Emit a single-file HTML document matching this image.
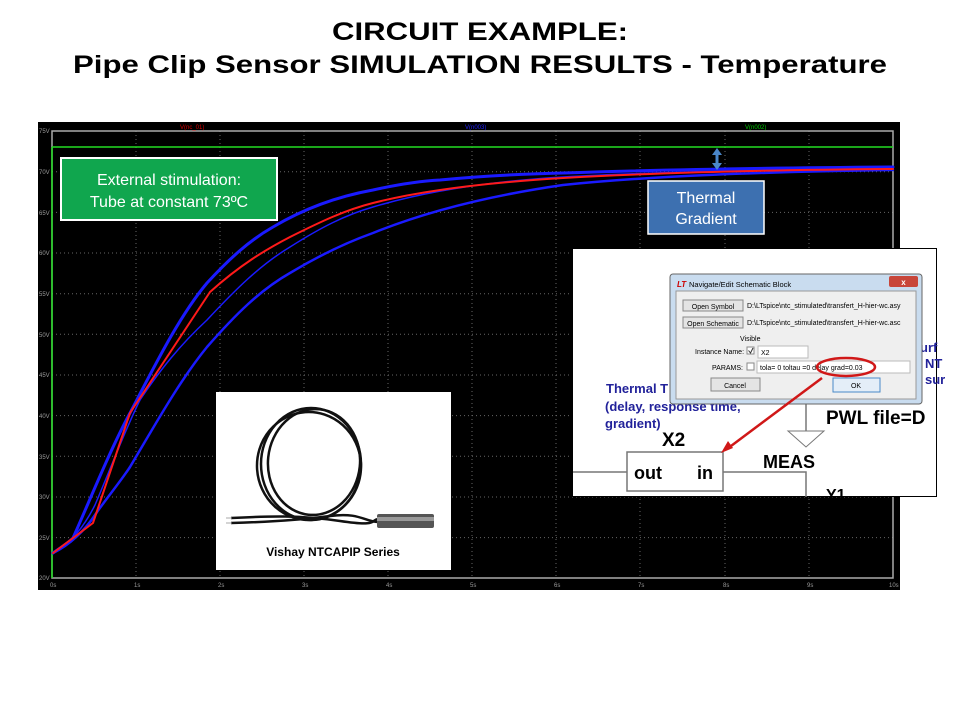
<!DOCTYPE html>
<html><head><meta charset="utf-8"><style>
html,body{margin:0;padding:0;background:#fff;}
svg{display:block;}
</style></head><body>
<svg width="960" height="720" viewBox="0 0 960 720" xmlns="http://www.w3.org/2000/svg" font-family="Liberation Sans, sans-serif">
<rect width="960" height="720" fill="#fff"/>
<text x="480" y="40" text-anchor="middle" font-size="25" font-weight="bold" textLength="296" lengthAdjust="spacingAndGlyphs">CIRCUIT EXAMPLE:</text>
<text x="480" y="73" text-anchor="middle" font-size="25" font-weight="bold" textLength="814" lengthAdjust="spacingAndGlyphs">Pipe Clip Sensor SIMULATION RESULTS - Temperature</text>

<!-- plot -->
<rect x="38" y="122" width="862" height="468" fill="#000"/>
<g stroke="#666" stroke-width="1" stroke-dasharray="1,3">
<line x1="52" y1="171.7" x2="893" y2="171.7"/><line x1="52" y1="212.4" x2="893" y2="212.4"/>
<line x1="52" y1="253" x2="893" y2="253"/><line x1="52" y1="293.7" x2="893" y2="293.7"/>
<line x1="52" y1="334.3" x2="893" y2="334.3"/><line x1="52" y1="375" x2="893" y2="375"/>
<line x1="52" y1="415.6" x2="893" y2="415.6"/><line x1="52" y1="456.3" x2="893" y2="456.3"/>
<line x1="52" y1="497" x2="893" y2="497"/><line x1="52" y1="537.6" x2="893" y2="537.6"/>
<line x1="136" y1="131" x2="136" y2="578"/><line x1="220" y1="131" x2="220" y2="578"/>
<line x1="304" y1="131" x2="304" y2="578"/><line x1="388" y1="131" x2="388" y2="578"/>
<line x1="472" y1="131" x2="472" y2="578"/><line x1="556" y1="131" x2="556" y2="578"/>
<line x1="640" y1="131" x2="640" y2="578"/><line x1="725" y1="131" x2="725" y2="578"/>
<line x1="809" y1="131" x2="809" y2="578"/>
</g>
<rect x="52" y="131" width="841" height="447" fill="none" stroke="#aaa" stroke-width="1.5"/>
<g fill="#999" font-size="6">
<text x="39" y="133">75V</text><text x="39" y="174">70V</text><text x="39" y="215">65V</text><text x="39" y="255">60V</text>
<text x="39" y="296">55V</text><text x="39" y="337">50V</text><text x="39" y="377">45V</text><text x="39" y="418">40V</text>
<text x="39" y="459">35V</text><text x="39" y="499">30V</text><text x="39" y="540">25V</text><text x="39" y="580">20V</text>
<text x="50" y="587">0s</text><text x="134" y="587">1s</text><text x="218" y="587">2s</text><text x="302" y="587">3s</text>
<text x="386" y="587">4s</text><text x="470" y="587">5s</text><text x="554" y="587">6s</text><text x="638" y="587">7s</text>
<text x="723" y="587">8s</text><text x="807" y="587">9s</text><text x="889" y="587">10s</text>
</g>
<text x="180" y="129" fill="#d00" font-size="6">V(nc_01)</text>
<text x="465" y="129" fill="#22f" font-size="6">V(n003)</text>
<text x="745" y="129" fill="#0c0" font-size="6">V(n002)</text>
<line x1="52" y1="147" x2="893" y2="147" stroke="#2d2" stroke-width="1.5"/>
<line x1="52" y1="147" x2="52" y2="578" stroke="#2d2" stroke-width="1.5"/>
<g fill="none" stroke-linecap="round" stroke-linejoin="round">
<!-- lower blue -->
<path d="M53,553 C70,545 85,530 95,515 C105,500 118,485 130,467 C155,425 180,380 207,347 C235,315 260,290 290,273 C320,255 345,243 373,233 C420,214 480,197 563,185 C650,176 760,172 893,170" stroke="#1a1aff" stroke-width="2.5"/>
<!-- middle thin blue -->
<path d="M53,553 C70,545 85,525 95,505 C110,470 125,430 140,400 C160,370 180,345 207,320 C235,290 260,265 290,247 C320,228 345,215 373,207 C420,193 480,182 563,177 C650,172 760,170 893,168" stroke="#1a1aff" stroke-width="1.5"/>
<!-- upper blue -->
<path d="M53,553 C60,548 68,543 73,538 C90,500 110,450 130,413 C155,365 180,315 207,283 C230,258 250,240 273,227 C305,208 340,196 373,190 C400,184 420,181 440,180 C480,176 520,174 563,173 C650,170 760,168 893,167" stroke="#1a1aff" stroke-width="3"/>
<!-- red -->
<path d="M53,553 L93,523 L130,413 L210,292 C240,265 265,250 290,237 C320,222 345,210 373,203 C420,191 480,183 563,178 C650,173 760,170 893,169" stroke="#ff1a1a" stroke-width="2"/>
</g>
<!-- green box -->
<rect x="61" y="158" width="216" height="62" fill="#10a64e" stroke="#fff" stroke-width="2"/>
<text x="169" y="185" text-anchor="middle" fill="#fff" font-size="16">External stimulation:</text>
<text x="169" y="207" text-anchor="middle" fill="#fff" font-size="16">Tube at constant 73ºC</text>
<!-- arrow -->
<path d="M717,148 L712,155 L715.5,155 L715.5,163 L712,163 L717,170 L722,163 L718.5,163 L718.5,155 L722,155 Z" fill="#4a86c8"/>
<rect x="648" y="181" width="116" height="53" fill="#3d70b0" stroke="#fff" stroke-width="1.5"/>
<text x="706" y="203" text-anchor="middle" fill="#fff" font-size="16">Thermal</text>
<text x="706" y="224" text-anchor="middle" fill="#fff" font-size="16">Gradient</text>

<!-- sensor image -->
<rect x="216" y="392" width="235" height="178" fill="#fff"/>
<g fill="none" stroke="#111" stroke-width="2.5">
<ellipse cx="311" cy="464" rx="50" ry="56"/>
<ellipse cx="314" cy="462" rx="46" ry="53" transform="rotate(6 314 462)"/>
<ellipse cx="309" cy="466" rx="52" ry="54" transform="rotate(-4 309 466)"/>
<path d="M231,518 C270,516 300,515 340,521 S370,520 378,519"/>
<path d="M231,523 C270,522 300,520 330,516 S365,522 378,522"/>
</g>
<rect x="377" y="514" width="57" height="14" rx="2" fill="#555"/>
<rect x="377" y="517" width="57" height="4" fill="#999"/>
<line x1="226" y1="518" x2="232" y2="518" stroke="#aaa"/><line x1="226" y1="523" x2="232" y2="523" stroke="#aaa"/>
<text x="333" y="556" text-anchor="middle" font-size="12" font-weight="bold">Vishay NTCAPIP Series</text>

<!-- screenshot -->
<rect x="572.5" y="248.5" width="364" height="248" fill="#fff" stroke="#000" stroke-width="1"/>
<line x1="573" y1="472" x2="627" y2="472" stroke="#777" stroke-width="1.5"/>
<rect x="627" y="452" width="96" height="39" fill="#fff" stroke="#777" stroke-width="1.5"/>
<text x="634" y="479" font-size="18" font-weight="bold">out</text>
<text x="697" y="479" font-size="18" font-weight="bold">in</text>
<text x="662" y="446" font-size="19" font-weight="bold">X2</text>
<path d="M723,472 L806,472 L806,497" fill="none" stroke="#777" stroke-width="1.5"/>
<line x1="806" y1="400" x2="806" y2="431" stroke="#777" stroke-width="1.5"/>
<path d="M788,431 L824,431 L806,447 Z" fill="#fff" stroke="#777"/>
<text x="763" y="468" font-size="18" font-weight="bold">MEAS</text>
<text x="826" y="424" font-size="19" font-weight="bold">PWL file=D</text>
<text x="826" y="500" font-size="16" font-weight="bold">Y1</text>
<g fill="#22229a" font-size="13" font-weight="bold">
<text x="606" y="393">Thermal T</text>
<text x="605" y="411">(delay, response time,</text>
<text x="605" y="428">gradient)</text>
<text x="920" y="352">urf</text><text x="925" y="368">NT</text><text x="925" y="384">sur</text>
</g>
<!-- dialog -->
<rect x="670" y="274" width="252" height="130" rx="3" fill="#c9dcef" stroke="#666"/>
<rect x="676" y="291" width="240" height="108" fill="#efefef" stroke="#999"/>
<text x="677" y="287" fill="#c00" font-size="8" font-style="italic" font-weight="bold">LT</text>
<text x="689" y="287" font-size="7.5">Navigate/Edit Schematic Block</text>
<rect x="889" y="276" width="29" height="11" rx="2" fill="#c8463a"/>
<text x="903.5" y="285" text-anchor="middle" fill="#fff" font-size="8" font-weight="bold">x</text>
<g font-size="7">
<rect x="683" y="300" width="60" height="11" fill="#e4e4e4" stroke="#888"/>
<text x="713" y="309" text-anchor="middle">Open Symbol</text>
<rect x="683" y="317" width="60" height="11" fill="#e4e4e4" stroke="#888"/>
<text x="713" y="326" text-anchor="middle">Open Schematic</text>
<text x="747" y="308">D:\LTspice\ntc_stimulated\transfert_H-hier-wc.asy</text>
<text x="747" y="325">D:\LTspice\ntc_stimulated\transfert_H-hier-wc.asc</text>
<text x="740" y="341">Visible</text>
<text x="695" y="354">Instance Name:</text>
<rect x="747" y="347" width="7" height="7" fill="#fff" stroke="#888"/>
<path d="M748.5,350.5 L750.5,353 L753,348" fill="none" stroke="#333" stroke-width="1"/>
<rect x="758" y="346" width="50" height="12" fill="#fff" stroke="#bbb"/>
<text x="761" y="355">X2</text>
<text x="712" y="370">PARAMS:</text>
<rect x="747" y="363" width="7" height="7" fill="#fff" stroke="#888"/>
<rect x="757" y="361" width="153" height="12" fill="#fff" stroke="#bbb"/>
<text x="760" y="370">tola= 0 toltau =0 delay grad=0.03</text>
<rect x="711" y="378" width="49" height="13" fill="#e4e4e4" stroke="#888"/>
<text x="735" y="388" text-anchor="middle">Cancel</text>
<rect x="833" y="378" width="47" height="14" fill="#e4eef8" stroke="#4a8ac8"/>
<text x="856" y="388" text-anchor="middle">OK</text>
</g>
<ellipse cx="846" cy="367" rx="29" ry="9" fill="none" stroke="#d01818" stroke-width="2.5"/>
<line x1="822" y1="378" x2="727" y2="449" stroke="#d01818" stroke-width="2.5"/>
<path d="M721,453 L728,441 L733,448 Z" fill="#d01818"/>
</svg>
</body></html>
